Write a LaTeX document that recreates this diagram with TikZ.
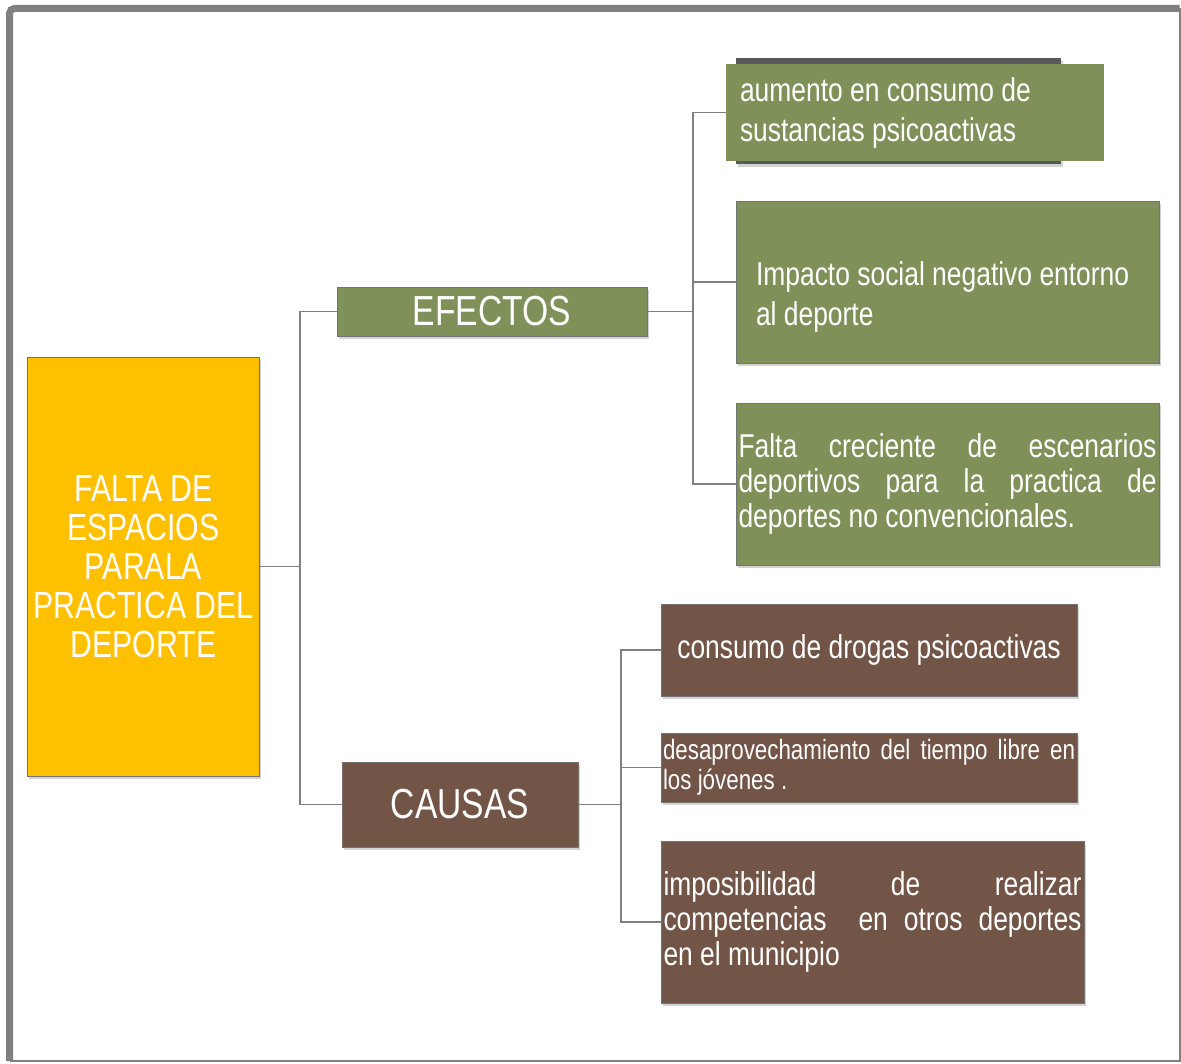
\documentclass[tikz,border=0pt]{standalone}
\usepackage{fontspec}
\setmainfont{Liberation Sans}[FakeStretch=0.8]
\usetikzlibrary{shadows}
\definecolor{olivo}{RGB}{127,145,89}
\definecolor{cafe}{RGB}{115,85,72}
\definecolor{amarillo}{RGB}{255,192,0}
\definecolor{marco}{RGB}{128,128,128}
\hyphenpenalty=10000
\begin{document}
\begin{tikzpicture}
    [  caja/.style={draw=black!55,line width=0.4pt,text=white,inner ysep=0pt,%
      drop shadow={shadow xshift=0.03cm,shadow yshift=-0.06cm,opacity=0.35}},
    efecto/.style={caja,fill=olivo},
    causa/.style={caja,fill=cafe},
    enlace/.style={draw=black!50,line width=1pt}]
    \tikzstyle{texto}=[font=\fontsize{18.8}{22.8}\selectfont]
    \tikzstyle{justo}=[align=justify,font=\fontsize{18.8}{19.9}\selectfont]
    \useasboundingbox (0,0) rectangle (23.62,21.26);
    % marco
    \draw[marco,line width=0.14cm,rounded corners=0.1cm] (0.19,0.04) |- (23.59,21.09);
    \draw[marco,line width=0.04cm] (0.19,0.04) -- (23.59,0.04) -- (23.59,21.09);

    \node[caja,fill=amarillo,minimum width=4.62cm,minimum height=8.38cm,
    align=center,font=\fontsize{21.5}{22.2}\selectfont] (falta) at (2.87,9.93)
    {FALTA DE\\ESPACIOS\\PARALA\\PRACTICA DEL\\DEPORTE};

    \node[efecto,minimum width=6.2cm,minimum height=0.98cm,
    font=\fontsize{23.9}{28}\selectfont] (efectos) at (9.84,15.03) {EFECTOS};
    \node[causa,minimum width=4.72cm,minimum height=1.7cm,
    font=\fontsize{23.9}{28}\selectfont] (causas) at (9.2,5.17) {CAUSAS};

    \node[fill=black!65,minimum width=6.5cm,minimum height=2.12cm,inner sep=0pt,
    drop shadow={shadow xshift=0.03cm,shadow yshift=-0.06cm,opacity=0.35}] (fondo) at (17.97,19.04) {};
    \node[fill=olivo,text=white,texto,inner xsep=0.28cm,inner ysep=0pt,text width=7cm,
    minimum height=1.94cm,align=flush left] (aumento) at (18.3,19.01)
    {aumento en consumo de\\sustancias psicoactivas};
    \node[efecto,texto,inner xsep=0.4cm,text width=7.66cm,minimum height=3.24cm,
    text height=1.08cm,align=flush left] (impacto) at (18.95,15.62)
    {Impacto social negativo entorno\\al deporte};
    \node[efecto,justo,inner xsep=0.05cm,text width=8.36cm,minimum height=3.24cm]
    (escenarios) at (18.95,11.58)
    {Falta creciente de escenarios\linebreak deportivos para la practica de\linebreak
      deportes no convencionales.};

    \node[causa,texto,minimum width=8.32cm,minimum height=1.84cm] (drogas) at (17.38,8.26)
    {consumo de drogas psicoactivas};
    \node[causa,align=justify,font=\fontsize{15.9}{17.1}\selectfont,inner xsep=0.04cm,
    text width=8.24cm,minimum height=1.38cm] (tiempo) at (17.38,5.91)
    {desaprovechamiento del tiempo libre en\linebreak los jóvenes .};
    \node[causa,justo,inner xsep=0.05cm,text width=8.36cm,minimum height=3.24cm]
    (competencias) at (17.45,2.82)
    {imposibilidad de realizar\linebreak competencias \ en otros deportes\linebreak
      en el municipio};

    \draw[enlace] (falta.east) -- ++(0.8,0) |- (efectos.west);
    \draw[enlace] (falta.east) -- ++(0.8,0) |- (causas.west);

    \draw[enlace] (efectos.east) -- ++(0.92,0) |- (aumento.west);
    \draw[enlace] (efectos.east) -- ++(0.92,0) |- (impacto.west);
    \draw[enlace] (efectos.east) -- ++(0.92,0) |- (escenarios.west);

    \draw[enlace] (causas.east) -- ++(0.86,0) |- (drogas.west);
    \draw[enlace] (causas.east) -- ++(0.86,0) |- (tiempo.west);
    \draw[enlace] (causas.east) -- ++(0.86,0) |- (competencias.west);
  \end{tikzpicture}
\end{document}
